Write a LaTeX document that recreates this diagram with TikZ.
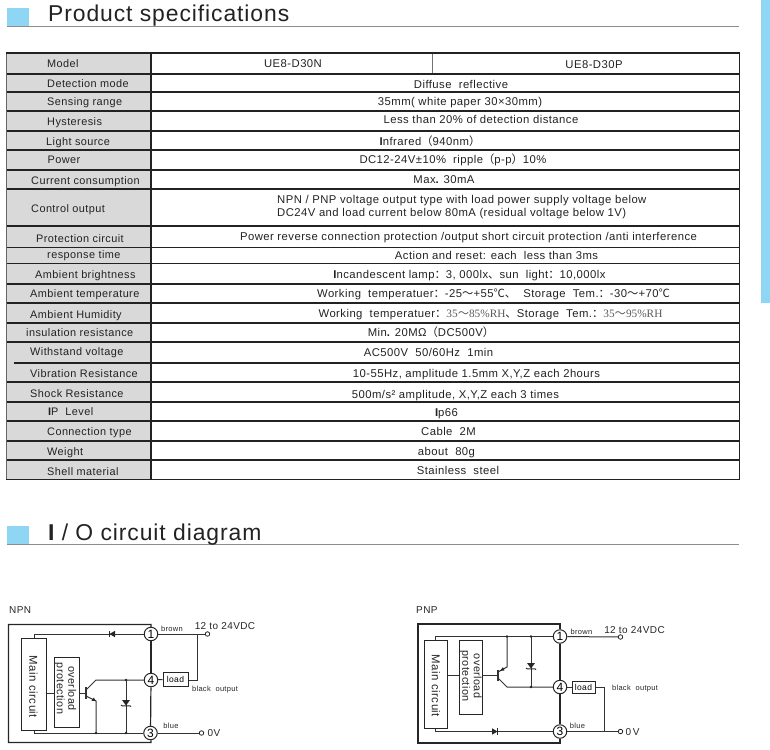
\documentclass[tikz,border=0pt]{standalone}
\usepackage{fontspec}
\setmainfont{Liberation Sans}[LetterSpace=4]
\newfontfamily\cjkfont{Noto Sans CJK SC}
\newfontfamily\numfont{Liberation Serif}
\newcommand{\cj}[1]{{\cjkfont #1}}
\newcommand{\gy}[1]{{\numfont\color{black!65}#1}}
\newcommand{\bI}{{\bfseries I}}
\definecolor{headblue}{HTML}{8FD6F5}
\definecolor{cellgray}{HTML}{D9D9D9}
\definecolor{inkdark}{HTML}{222222}
\tikzset{
    rowlabel/.style={anchor=west,inner sep=0pt,yshift=-1.5pt,font=\fontsize{10.9}{12}\selectfont,
        text=inkdark,text height=7pt,text depth=2pt},
    rowvalue/.style={inner sep=0pt,yshift=-1.5pt,font=\fontsize{11.3}{12}\selectfont,
        text=inkdark,text height=7pt,text depth=2pt},
    headtitle/.style={anchor=west,inner sep=0pt,yshift=-2pt,font=\fontsize{22.9}{24}\selectfont,text=inkdark},
    rowline/.style={draw=inkdark,line width=1.4pt},
    headline/.style={draw=black!45,line width=0.8pt},
    wire/.style={draw=black!80,line width=1pt},
    frame/.style={draw=black!85,line width=1.2pt},
    block/.style={draw=black!85,line width=1pt,fill=white,inner sep=0pt},
    pin/.style={circle,draw=black!85,line width=1pt,fill=white,inner sep=0pt,
        minimum size=13.5pt,font=\fontsize{12}{12}\selectfont},
    term/.style={circle,draw=black!85,line width=0.8pt,fill=white,inner sep=0pt,minimum size=4.5pt},
    joint/.style={circle,fill=black!85,inner sep=0pt,minimum size=2.6pt},
    tag/.style={inner sep=0pt,yshift=-1pt,font=\fontsize{7.5}{9}\selectfont,text=black!85},
    supply/.style={inner sep=0pt,yshift=-1pt,font=\fontsize{10}{12}\selectfont,text=black!85},
    blocktext/.style={inner sep=0pt,rotate=-90,font=\fontsize{11.4}{12}\selectfont,text=black!85},
    diode/.pic={
        \fill[black!85] (-3,-3.2) -- (-3,3.2) -- (2.5,0) -- cycle;
        \draw[black!85,line width=0.9pt] (2.8,-3.4) -- (2.8,3.4);},
    zener/.pic={
        \fill[black!85] (-3,-4) -- (-3,4) -- (2.5,0) -- cycle;
        \draw[black!85,line width=0.9pt] (3.6,-5) -- (2.8,-4) -- (2.8,4) -- (2,5);},
}

\begin{document}
\begin{tikzpicture}[x=1pt,y=-1pt]
    \useasboundingbox (0,0) rectangle (770,749);
    % headings and side bar
    \fill[headblue] (761,0) rectangle (770,303);
    \fill[headblue] (7,8) rectangle (29,26);
    \draw[headline] (7,26.3) -- (739,26.3);
    \node[headtitle] (headSpec) at (48,13.5) {Product specifications};
    \fill[headblue] (7,526) rectangle (29,544);
    \draw[headline] (7,544.3) -- (739,544.3);
    \node[headtitle] (headIO) at (48,532.5) {\bI\ / O circuit diagram};

    % table
    \fill[cellgray] (6.5,53) rectangle (151,479);
    \draw[draw=black!60,line width=0.8pt] (6.5,53) -- (6.5,479);
    \draw[draw=black!55,line width=1pt] (432,53) -- (432,74);
    \draw[rowline] (6,53) -- (739.7,53) -- (739.7,479.5) -- (6,479.5)
        (151,53) -- (151,479.5)
        (6.5,74) -- (739,74)
        (6.5,92) -- (739,92)
        (6.5,111) -- (739,111)
        (6.5,131) -- (739,131)
        (6.5,150) -- (739,150)
        (6.5,170) -- (739,170)
        (6.5,189) -- (739,189)
        (6.5,226) -- (739,226)
        (6.5,247.5) -- (739,247.5)
        (6.5,263.5) -- (739,263.5)
        (6.5,284) -- (739,284)
        (6.5,303) -- (739,303)
        (6.5,323) -- (739,323)
        (6.5,342) -- (739,342)
        (14,363) -- (739,363)
        (6.5,382) -- (739,382)
        (6.5,402) -- (739,402)
        (6.5,421) -- (739,421)
        (6.5,441) -- (739,441)
        (6.5,460) -- (739,460);

    \node[rowlabel] (lModel) at (47,64) {Model};
    \node[rowlabel] (lMode) at (47,84) {Detection mode};
    \node[rowlabel] (lRange) at (47,102) {Sensing range};
    \node[rowlabel] (lHyst) at (47,121) {Hysteresis};
    \node[rowlabel] (lLight) at (46,141.5) {Light source};
    \node[rowlabel] (lPower) at (47.5,159) {Power};
    \node[rowlabel] (lCurrent) at (31,180) {Current consumption};
    \node[rowlabel] (lControl) at (31,208) {Control output};
    \node[rowlabel] (lProtect) at (36,238.5) {Protection circuit};
    \node[rowlabel] (lResp) at (47,254) {response time};
    \node[rowlabel] (lBright) at (35,274) {Ambient brightness};
    \node[rowlabel] (lTemp) at (30,293) {Ambient temperature};
    \node[rowlabel] (lHumid) at (30,314) {Ambient Humidity};
    \node[rowlabel] (lInsul) at (26,332) {insulation resistance};
    \node[rowlabel] (lWith) at (30,351) {Withstand voltage};
    \node[rowlabel] (lVib) at (30,373) {Vibration Resistance};
    \node[rowlabel] (lShock) at (30,393) {Shock Resistance};
    \node[rowlabel] (lIP) at (48,411) {\bI P\ \ Level};
    \node[rowlabel] (lConn) at (47,431) {Connection type};
    \node[rowlabel] (lWeight) at (47,451) {Weight};
    \node[rowlabel] (lShell) at (47,471) {Shell material};

    \node[rowvalue] (vModelN) at (293,64) {UE8-D30N};
    \node[rowvalue] (vModelP) at (594,64.5) {UE8-D30P};
    \node[rowvalue] (vMode) at (461,85) {Diffuse\ \ reflective};
    \node[rowvalue] (vRange) at (460,102) {35mm( white paper 30×30mm)};
    \node[rowvalue] (vHyst) at (481,120) {Less than 20\% of detection distance};
    \node[rowvalue] (vLight) at (430,141) {\bI nfrared\cj{（}940nm\cj{）}};
    \node[rowvalue] (vPower) at (453,159) {DC12-24V±10\%\ \ ripple\cj{（}p-p\cj{）}10\%};
    \node[rowvalue] (vCurrent) at (444,179) {Max{\bfseries .} 30mA};
    \node[rowvalue,anchor=west] (vControlA) at (277,199) {NPN / PNP voltage output type with load power supply voltage below};
    \node[rowvalue,anchor=west] (vControlB) at (277,212) {DC24V and load current below 80mA (residual voltage below 1V)};
    \node[rowvalue] (vProtect) at (468.5,236) {Power reverse connection protection /output short circuit protection /anti interference};
    \node[rowvalue] (vResp) at (496.5,255) {Action and reset: each\ \ less than 3ms};
    \node[rowvalue] (vBright) at (469.5,274) {\bI ncandescent lamp\cj{：}3, 000lx\cj{、}sun\ \ light\cj{：}10,000lx};
    \node[rowvalue] (vTemp) at (493.5,293) {Working\ \ temperatuer\cj{：}-25\cj{～}+55\cj{℃}\cj{、}\ \ Storage\ \ Tem.\cj{：}-30\cj{～}+70\cj{℃}};
    \node[rowvalue] (vHumid) at (490.5,313) {Working\ \ temperatuer\cj{：}\gy{35\cj{～}85\%RH}\cj{、}Storage\ \ Tem.\cj{：}\gy{35\cj{～}95\%RH}};
    \node[rowvalue] (vInsul) at (431,332) {Min{\bfseries .} 20MΩ\cj{（}DC500V\cj{）}};
    \node[rowvalue] (vWith) at (428.5,352) {AC500V\ \ 50/60Hz\ \ 1min};
    \node[rowvalue] (vVib) at (476.5,373) {10-55Hz, amplitude 1.5mm X,Y,Z each 2hours};
    \node[rowvalue] (vShock) at (455.5,394) {500m/s² amplitude, X,Y,Z each 3 times};
    \node[rowvalue] (vIP) at (446.5,412) {\bI p66};
    \node[rowvalue] (vConn) at (448.5,431) {Cable\ \ 2M};
    \node[rowvalue] (vWeight) at (446.5,451) {about\ \ 80g};
    \node[rowvalue] (vShell) at (458,470) {Stainless\ \ steel};

    % NPN circuit
    \node[supply,anchor=west] (nTitle) at (9,609) {NPN};
    \node[pin] (n1) at (151,634) {1};
    \node[pin] (n4) at (151,680) {4};
    \node[pin] (n3) at (150.5,733) {3};
    \node[block,minimum width=25pt,minimum height=92pt] (nMain) at (33.5,684) {};
    \node[block,minimum width=25pt,minimum height=70pt] (nOver) at (66.5,692) {};
    \node[blocktext] (nMainT) at (33.5,687) {Main circuit};
    \node[blocktext,align=center,font=\fontsize{10.8}{11.5}\selectfont] (nOverT) at (65.5,688.5) {overload\\protection};
    \node[block,minimum width=25pt,minimum height=14pt,font=\fontsize{8.5}{10}\selectfont] (nLoad) at (175.5,679) {load};
    \node[term] (nPlus) at (207.5,634) {};
    \node[term] (nZero) at (201.5,733) {};
    \node[tag] (nBrown) at (172,628) {brown};
    \node[supply] (nVdc) at (225,625) {12 to 24VDC};
    \node[tag] (nOut) at (215,689) {black\ \ output};
    \node[tag] (nBlue) at (171,725) {blue};
    \node[supply] (nGnd) at (214,732.5) {0V};
    \coordinate (nTop) at (151,624.5);
    \coordinate (nTL) at (8.5,624.5);
    \coordinate (nBL) at (8.5,742.5);
    \coordinate (nBot) at (151,742.5);
    \coordinate (nA) at (34,634);
    \coordinate (nB) at (34,733);
    \coordinate (nBase) at (86,693);
    \coordinate (nBarA) at (86,687);
    \coordinate (nBarB) at (86,699);
    \coordinate (nCol) at (96,680);
    \coordinate (nEm) at (96,701);
    \coordinate (nEmGnd) at (96,733);
    \coordinate (nZa) at (126,680);
    \coordinate (nZb) at (126,733);
    \coordinate (nDrop) at (197,680);
    \coordinate (nRise) at (197,634);
    \draw[frame] (n1) -- (nTop) -- (nTL) -- (nBL) -- (nBot) -- (n3);
    \draw[frame] (n1) -- (n4);
    \draw[frame] (n4) -- (n3);
    \draw[wire] (n1) -- (nA) -- (nA |- nMain.north);
    \draw[wire] (nB |- nMain.south) -- (nB) -- (n3);
    \draw[wire] (nMain.east |- nBase) -- (nOver.west |- nBase);
    \draw[wire] (nOver.east |- nBase) -- (nBase);
    \draw[wire,line width=1.3pt] (nBarA) -- (nBarB);
    \draw[wire] (86,690) -- (nCol) -- (n4);
    \draw[wire] (86,696) -- (nEm) -- (nEmGnd);
    \fill[black!85] (nEm) -- ++(-4.5,-0.2) -- ++(2.2,-3.2) -- cycle;
    \draw[wire] (nZa) -- (nZb);
    \draw[wire] (n4) -- (nLoad);
    \draw[wire] (nLoad.east |- nDrop) -- (nDrop) -- (nRise);
    \draw[wire] (n1) -- (nPlus);
    \draw[wire] (n3) -- (nZero);
    \node[joint] (nJa) at (nEmGnd) {};
    \node[joint] (nJb) at (nZb) {};
    \node[joint] (nJc) at (nZa) {};
    \pic[rotate=180] at (112,634) {diode};
    \pic[rotate=-90] at (126,703) {zener};

    % PNP circuit
    \node[supply,anchor=west] (pTitle) at (416,609) {PNP};
    \node[pin] (p1) at (560,636.5) {1};
    \node[pin] (p4) at (560,687) {4};
    \node[pin] (p3) at (560,731.5) {3};
    \node[block,minimum width=23pt,minimum height=88pt] (pMain) at (435.5,684) {};
    \node[block,minimum width=23pt,minimum height=74pt] (pOver) at (470.5,677) {};
    \node[blocktext] (pMainT) at (436,686) {Main circuit};
    \node[blocktext,align=center,font=\fontsize{10.8}{11.5}\selectfont] (pOverT) at (471,676) {overload\\protection};
    \node[block,minimum width=23pt,minimum height=12pt,font=\fontsize{8.5}{10}\selectfont] (pLoad) at (583.5,687) {load};
    \node[term] (pPlus) at (620.5,637) {};
    \node[term] (pZero) at (620.5,731.5) {};
    \node[tag] (pBrown) at (581.5,631) {brown};
    \node[supply] (pVdc) at (634.5,629) {12 to 24VDC};
    \node[tag] (pOut) at (635,688) {black\ \ output};
    \node[tag] (pBlue) at (577.5,725) {blue};
    \node[supply] (pGnd) at (632.5,731.5) {0\,V};
    \coordinate (pTop) at (560,624);
    \coordinate (pTL) at (418,624);
    \coordinate (pBL) at (418,743);
    \coordinate (pBot) at (560,743);
    \coordinate (pA) at (435,636.5);
    \coordinate (pB) at (435,731.5);
    \coordinate (pBase) at (498,675);
    \coordinate (pBarA) at (498,669.5);
    \coordinate (pBarB) at (498,680.5);
    \coordinate (pEm) at (507,667);
    \coordinate (pEmVcc) at (507,636.5);
    \coordinate (pCol) at (507,687);
    \coordinate (pZa) at (531,636.5);
    \coordinate (pZb) at (531,687);
    \coordinate (pDrop) at (604,687);
    \coordinate (pJoin) at (604,731.5);
    \draw[frame] (p1) -- (pTop) -- (pTL) -- (pBL) -- (pBot) -- (p3);
    \draw[frame] (p1) -- (p4);
    \draw[frame] (p4) -- (p3);
    \draw[wire] (p1) -- (pA) -- (pA |- pMain.north);
    \draw[wire] (pB |- pMain.south) -- (pB) -- (p3);
    \draw[wire] (pMain.east |- pBase) -- (pOver.west |- pBase);
    \draw[wire] (pOver.east |- pBase) -- (pBase);
    \draw[wire,line width=1.3pt] (pBarA) -- (pBarB);
    \draw[wire] (498,672) -- (pEm) -- (pEmVcc);
    \fill[black!85] (500,671) -- ++(4.5,-0.6) -- ++(-1.6,-3.2) -- cycle;
    \draw[wire] (498,678) -- (pCol) -- (p4);
    \draw[wire] (pZa) -- (pZb);
    \draw[wire] (p4) -- (pLoad);
    \draw[wire] (pLoad) -- (pDrop) -- (pJoin);
    \draw[wire] (p1) -- (pPlus);
    \draw[wire] (p3) -- (pZero);
    \node[joint] (pJa) at (pEmVcc) {};
    \node[joint] (pJb) at (pZa) {};
    \node[joint] (pJc) at (pZb) {};
    \pic at (495,731.5) {diode};
    \pic[rotate=-90] at (531,666) {zener};
\end{tikzpicture}
\end{document}
